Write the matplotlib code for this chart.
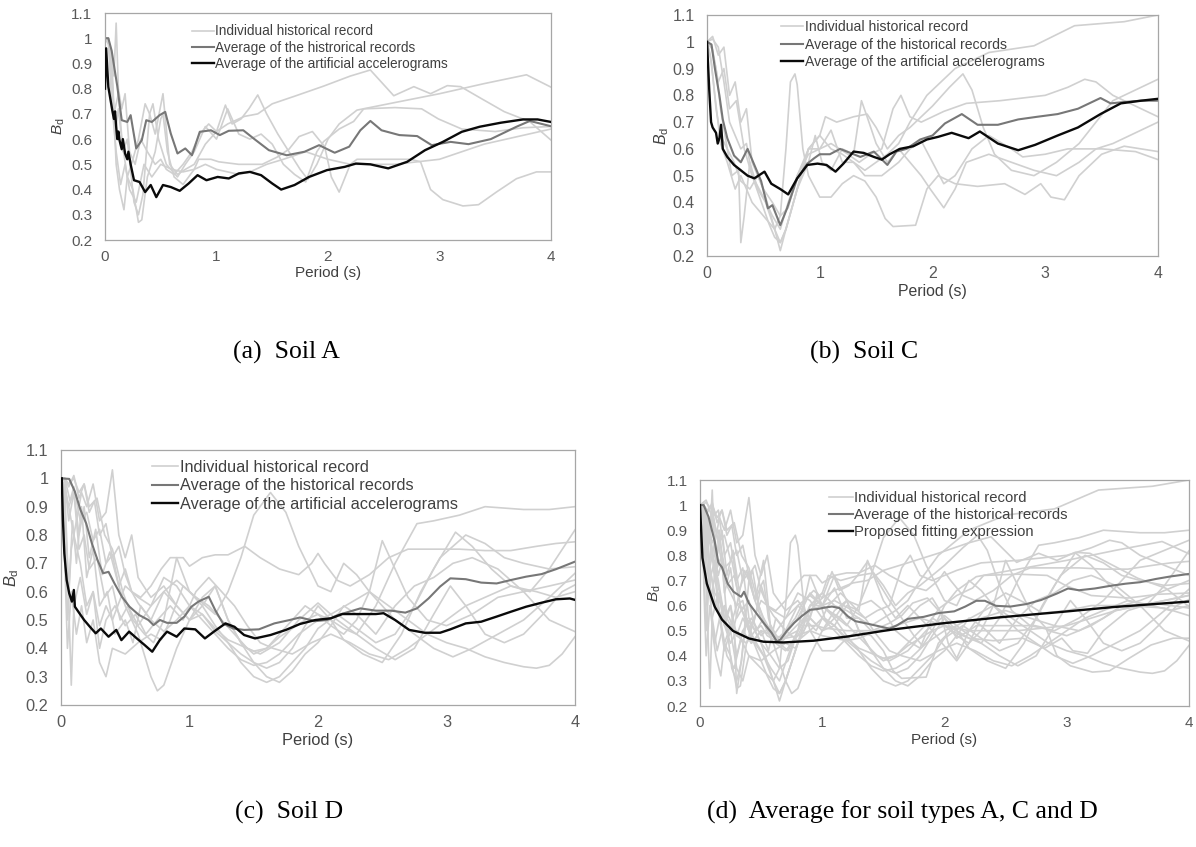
import matplotlib
matplotlib.use('Agg')
import matplotlib.pyplot as plt

plt.rcParams['font.family'] = ['Liberation Sans', 'DejaVu Sans']
plt.rcParams['mathtext.fontset'] = 'custom'
plt.rcParams['mathtext.rm'] = 'Liberation Sans'
plt.rcParams['mathtext.it'] = 'Liberation Sans:italic'

# ---------------- Soil A ----------------
a1_t = [0, 0.03, 0.06, 0.09, 0.12, 0.15, 0.2, 0.25, 0.3, 0.36, 0.4, 0.45, 0.52, 0.58, 0.65, 0.72, 0.8, 0.9, 1.0, 1.1, 1.25, 1.37, 1.5, 1.7, 1.96, 2.2, 2.38, 2.59, 2.77, 2.92, 3.07, 3.19, 3.37, 3.58, 3.81, 4.0]
a1_bd = [1.0, 1.0, 0.92, 0.62, 0.72, 0.6, 0.45, 0.52, 0.6, 0.74, 0.7, 0.62, 0.78, 0.5, 0.46, 0.48, 0.5, 0.58, 0.63, 0.66, 0.69, 0.7, 0.74, 0.77, 0.81, 0.85, 0.874, 0.772, 0.808, 0.78, 0.812, 0.808, 0.762, 0.709, 0.669, 0.596]
a2_t = [0, 0.02, 0.05, 0.08, 0.1, 0.12, 0.15, 0.18, 0.22, 0.27, 0.32, 0.38, 0.45, 0.5, 0.55, 0.62, 0.7, 0.78, 0.85, 0.93, 1.0, 1.08, 1.14, 1.22, 1.29, 1.37, 1.45, 1.55, 1.65, 1.75, 1.82, 1.9, 2.0, 2.1, 2.26, 2.6, 3.0, 3.4, 3.78, 4.0]
a2_bd = [1.0, 1.0, 0.95, 0.85, 1.06, 0.8, 0.72, 0.78, 0.55, 0.5, 0.6, 0.55, 0.5, 0.52, 0.48, 0.46, 0.5, 0.55, 0.62, 0.66, 0.63, 0.735, 0.66, 0.68, 0.72, 0.775, 0.7, 0.62, 0.55, 0.48, 0.44, 0.5, 0.6, 0.66, 0.715, 0.745, 0.78, 0.82, 0.855, 0.806]
a3_t = [0, 0.03, 0.07, 0.1, 0.13, 0.17, 0.2, 0.25, 0.3, 0.33, 0.38, 0.45, 0.5, 0.52, 0.56, 0.62, 0.7, 0.8, 0.84, 0.95, 1.02, 1.2, 1.41, 1.55, 1.65, 1.74, 1.86, 1.97, 2.03, 2.1, 2.2, 2.26, 2.5, 2.74, 2.83, 2.92, 3.03, 3.21, 3.35, 3.51, 3.69, 3.87, 4.0]
a3_bd = [1.0, 1.0, 0.8, 0.5, 0.4, 0.32, 0.45, 0.4, 0.27, 0.28, 0.45, 0.55, 0.68, 0.7, 0.55, 0.45, 0.42, 0.48, 0.52, 0.52, 0.51, 0.5, 0.5, 0.53, 0.56, 0.61, 0.63, 0.57, 0.45, 0.39, 0.5, 0.52, 0.52, 0.52, 0.51, 0.4, 0.36, 0.335, 0.34, 0.39, 0.443, 0.47, 0.47]
a4_t = [0, 0.04, 0.08, 0.12, 0.16, 0.2, 0.26, 0.3, 0.34, 0.4, 0.43, 0.48, 0.55, 0.65, 0.72, 0.8, 0.9, 1.0, 1.1, 1.2, 1.3, 1.4, 1.5, 1.6, 1.7, 1.8, 1.9, 1.96, 2.1, 2.23, 2.32, 2.6, 2.84, 2.99, 3.2, 3.5, 3.75, 4.0]
a4_bd = [1.0, 0.97, 0.7, 0.78, 0.55, 0.6, 0.35, 0.3, 0.38, 0.7, 0.74, 0.6, 0.5, 0.45, 0.5, 0.55, 0.65, 0.6, 0.72, 0.62, 0.6, 0.62, 0.58, 0.5, 0.46, 0.43, 0.55, 0.59, 0.64, 0.67, 0.72, 0.725, 0.72, 0.68, 0.64, 0.63, 0.645, 0.65]
a5_t = [0, 0.03, 0.06, 0.1, 0.14, 0.18, 0.22, 0.28, 0.35, 0.42, 0.5, 0.6, 0.7, 0.8, 0.9, 1.0, 1.1, 1.2, 1.3, 1.45, 1.6, 1.8, 2.0, 2.2, 2.4, 2.6, 2.8, 3.0, 3.2, 3.4, 3.6, 3.8, 4.0]
a5_bd = [1.0, 0.98, 0.75, 0.55, 0.42, 0.5, 0.4, 0.35, 0.5, 0.45, 0.5, 0.48, 0.47, 0.48, 0.5, 0.48, 0.47, 0.46, 0.47, 0.5, 0.52, 0.55, 0.52, 0.5, 0.5, 0.5, 0.51, 0.52, 0.55, 0.58, 0.6, 0.62, 0.64]

a_avg_t = [0, 0.03, 0.06, 0.11, 0.15, 0.2, 0.23, 0.28, 0.33, 0.37, 0.42, 0.49, 0.54, 0.59, 0.65, 0.72, 0.78, 0.85, 0.95, 1.03, 1.11, 1.24, 1.34, 1.47, 1.63, 1.79, 1.92, 2.06, 2.19, 2.29, 2.38, 2.48, 2.64, 2.8, 2.93, 3.1, 3.26, 3.46, 3.69, 3.81, 4.0]
a_avg_bd = [1.0, 1.0, 0.95, 0.81, 0.675, 0.668, 0.695, 0.563, 0.596, 0.675, 0.668, 0.695, 0.708, 0.622, 0.543, 0.563, 0.536, 0.629, 0.635, 0.616, 0.633, 0.635, 0.6, 0.556, 0.536, 0.55, 0.576, 0.546, 0.57, 0.635, 0.672, 0.635, 0.616, 0.612, 0.576, 0.589, 0.58, 0.6, 0.649, 0.672, 0.651]
a_art_t = [0.0, 0.01, 0.03, 0.065, 0.08, 0.09, 0.1, 0.11, 0.12, 0.13, 0.15, 0.16, 0.18, 0.2, 0.21, 0.23, 0.26, 0.31, 0.36, 0.41, 0.46, 0.52, 0.59, 0.67, 0.75, 0.83, 0.91, 1.01, 1.11, 1.2, 1.3, 1.4, 1.5, 1.58, 1.7, 1.83, 1.99, 2.15, 2.25, 2.38, 2.54, 2.71, 2.87, 3.03, 3.2, 3.36, 3.55, 3.75, 3.88, 4.0]
a_art_bd = [0.8, 0.96, 0.807, 0.715, 0.68, 0.71, 0.65, 0.6, 0.63, 0.596, 0.56, 0.6, 0.543, 0.52, 0.55, 0.50, 0.437, 0.43, 0.39, 0.418, 0.37, 0.418, 0.41, 0.395, 0.424, 0.457, 0.437, 0.45, 0.444, 0.464, 0.47, 0.457, 0.424, 0.40, 0.418, 0.45, 0.477, 0.49, 0.503, 0.50, 0.484, 0.51, 0.556, 0.589, 0.629, 0.649, 0.665, 0.678, 0.678, 0.668]

# ---------------- Soil C ----------------
b1_t = [0, 0.05, 0.1, 0.15, 0.2, 0.25, 0.3, 0.35, 0.4, 0.5, 0.6, 0.65, 0.7, 0.8, 0.9, 1.0, 1.1, 1.2, 1.3, 1.4, 1.5, 1.6, 1.7, 1.8, 1.95, 2.2, 2.5, 2.9, 3.26, 3.7, 4.0]
b1_bd = [1.0, 1.02, 0.95, 0.98, 0.8, 0.85, 0.7, 0.75, 0.55, 0.45, 0.3, 0.25, 0.3, 0.45, 0.6, 0.65, 0.6, 0.58, 0.55, 0.52, 0.55, 0.58, 0.62, 0.7, 0.8, 0.9, 0.96, 0.985, 1.06, 1.075, 1.1]
b2_t = [0, 0.03, 0.07, 0.12, 0.18, 0.25, 0.3, 0.4, 0.5, 0.6, 0.65, 0.7, 0.74, 0.78, 0.8, 0.85, 0.9, 1.0, 1.1, 1.2, 1.3, 1.4, 1.5, 1.58, 1.65, 1.85, 1.95, 2.05, 2.2, 2.4, 2.64, 2.82, 2.96, 3.05, 3.17, 3.3, 3.5, 3.7, 3.85, 4.0]
b2_bd = [1.0, 0.95, 0.8, 0.62, 0.55, 0.45, 0.5, 0.4, 0.35, 0.3, 0.35, 0.6, 0.85, 0.88, 0.84, 0.6, 0.5, 0.42, 0.42, 0.47, 0.5, 0.48, 0.42, 0.34, 0.31, 0.315, 0.45, 0.5, 0.47, 0.46, 0.47, 0.43, 0.47, 0.42, 0.41, 0.5, 0.58, 0.61, 0.6, 0.59]
b3_t = [0, 0.04, 0.08, 0.12, 0.16, 0.22, 0.28, 0.3, 0.33, 0.38, 0.45, 0.52, 0.6, 0.65, 0.7, 0.8, 0.9, 0.96, 1.02, 1.1, 1.2, 1.3, 1.37, 1.42, 1.5, 1.6, 1.7, 1.8, 1.9, 1.98, 2.1, 2.2, 2.3, 2.5, 2.7, 2.9, 3.1, 3.3, 3.45, 3.6, 3.8, 4.0]
b3_bd = [1.0, 0.98, 0.9, 0.75, 0.65, 0.5, 0.52, 0.25, 0.35, 0.55, 0.45, 0.4, 0.3, 0.22, 0.3, 0.45, 0.55, 0.65, 0.55, 0.52, 0.6, 0.58, 0.78, 0.72, 0.62, 0.55, 0.6, 0.55, 0.5, 0.45, 0.38, 0.45, 0.55, 0.58, 0.55, 0.52, 0.5, 0.55, 0.6, 0.62, 0.66, 0.70]
b4_t = [0, 0.05, 0.1, 0.15, 0.2, 0.26, 0.33, 0.4, 0.5, 0.58, 0.65, 0.72, 0.8, 0.9, 1.0, 1.05, 1.15, 1.3, 1.42, 1.5, 1.6, 1.7, 1.8, 2.0, 2.15, 2.27, 2.35, 2.45, 2.55, 2.7, 2.9, 3.1, 3.3, 3.45, 3.6, 3.8, 4.0]
b4_bd = [1.0, 0.97, 0.85, 0.9, 0.75, 0.78, 0.6, 0.5, 0.42, 0.35, 0.3, 0.4, 0.5, 0.6, 0.65, 0.72, 0.7, 0.72, 0.73, 0.68, 0.6, 0.65, 0.68, 0.76, 0.83, 0.88, 0.82, 0.68, 0.58, 0.52, 0.5, 0.55, 0.62, 0.7, 0.78, 0.82, 0.86]
b5_t = [0, 0.04, 0.08, 0.12, 0.18, 0.24, 0.3, 0.38, 0.45, 0.5, 0.58, 0.65, 0.72, 0.8, 0.9, 1.0, 1.1, 1.25, 1.35, 1.45, 1.55, 1.65, 1.72, 1.8, 1.9, 2.0, 2.1, 2.3, 2.6, 2.8, 3.0, 3.2, 3.35, 3.45, 3.6, 3.8, 4.0]
b5_bd = [1.0, 0.92, 0.75, 0.65, 0.6, 0.55, 0.48, 0.45, 0.5, 0.45, 0.4, 0.35, 0.38, 0.5, 0.58, 0.6, 0.62, 0.58, 0.55, 0.58, 0.6, 0.75, 0.8, 0.72, 0.7, 0.72, 0.74, 0.77, 0.78, 0.79, 0.8, 0.83, 0.86, 0.85, 0.8, 0.76, 0.72]
b6_t = [0, 0.05, 0.1, 0.15, 0.2, 0.25, 0.3, 0.35, 0.4, 0.5, 0.55, 0.6, 0.65, 0.7, 0.8, 0.9, 1.0, 1.1, 1.2, 1.3, 1.4, 1.55, 1.7, 1.8, 1.9, 2.0, 2.1, 2.2, 2.35, 2.5, 2.7, 2.8, 3.0, 3.2, 3.5, 3.8, 4.0]
b6_bd = [1.0, 1.01, 0.98, 0.85, 0.7, 0.65, 0.6, 0.62, 0.5, 0.38, 0.32, 0.27, 0.25, 0.3, 0.45, 0.6, 0.6, 0.67, 0.55, 0.55, 0.5, 0.5, 0.55, 0.6, 0.63, 0.55, 0.47, 0.5, 0.6, 0.65, 0.6, 0.57, 0.58, 0.6, 0.6, 0.59, 0.56]

c_avg_t_b = [0, 0.04, 0.07, 0.11, 0.14, 0.18, 0.24, 0.3, 0.36, 0.42, 0.48, 0.54, 0.58, 0.65, 0.71, 0.8, 0.89, 0.95, 1.0, 1.09, 1.18, 1.27, 1.36, 1.48, 1.6, 1.68, 1.77, 1.89, 2.0, 2.11, 2.26, 2.4, 2.58, 2.76, 2.93, 3.11, 3.29, 3.49, 3.58, 3.7, 3.85, 4.0]
c_avg_bd_b = [1.0, 0.99, 0.90, 0.80, 0.71, 0.64, 0.575, 0.55, 0.60, 0.54, 0.48, 0.378, 0.39, 0.315, 0.378, 0.49, 0.545, 0.565, 0.58, 0.58, 0.60, 0.585, 0.57, 0.59, 0.54, 0.59, 0.60, 0.635, 0.65, 0.695, 0.73, 0.69, 0.69, 0.71, 0.72, 0.73, 0.75, 0.79, 0.77, 0.775, 0.78, 0.78]
c_art_t = [0, 0.02, 0.036, 0.05, 0.08, 0.095, 0.11, 0.125, 0.14, 0.18, 0.24, 0.3, 0.36, 0.42, 0.51, 0.57, 0.65, 0.72, 0.8, 0.89, 0.98, 1.06, 1.14, 1.21, 1.3, 1.39, 1.48, 1.55, 1.62, 1.71, 1.83, 1.95, 2.05, 2.17, 2.32, 2.42, 2.58, 2.76, 2.91, 3.11, 3.29, 3.49, 3.67, 3.85, 4.0]
c_art_bd = [1.0, 0.82, 0.70, 0.68, 0.66, 0.62, 0.64, 0.69, 0.60, 0.57, 0.54, 0.52, 0.50, 0.49, 0.515, 0.47, 0.45, 0.43, 0.49, 0.54, 0.545, 0.54, 0.515, 0.545, 0.59, 0.585, 0.57, 0.56, 0.58, 0.60, 0.61, 0.635, 0.645, 0.66, 0.64, 0.665, 0.62, 0.595, 0.615, 0.65, 0.68, 0.73, 0.77, 0.78, 0.787]

# ---------------- Soil D ----------------
d1_t = [0, 0.02, 0.05, 0.08, 0.1, 0.15, 0.2, 0.25, 0.3, 0.35, 0.4, 0.5, 0.6, 0.7, 0.8, 0.9, 1.0, 1.1, 1.2, 1.3, 1.4, 1.5, 1.63, 1.75, 1.85, 2.0, 2.1, 2.2, 2.3, 2.4, 2.5, 2.6, 2.75, 2.9, 3.05, 3.2, 3.4, 3.6, 3.8, 4.0]
d1_bd = [1.0, 0.98, 0.7, 0.27, 0.55, 0.65, 0.52, 0.6, 0.48, 0.55, 0.5, 0.62, 0.58, 0.55, 0.6, 0.64, 0.6, 0.56, 0.52, 0.6, 0.72, 0.87, 0.95, 0.88, 0.76, 0.62, 0.6, 0.7, 0.66, 0.6, 0.55, 0.5, 0.45, 0.4, 0.37, 0.4, 0.45, 0.5, 0.58, 0.665]
d2_t = [0, 0.03, 0.06, 0.1, 0.14, 0.18, 0.22, 0.26, 0.3, 0.35, 0.4, 0.45, 0.5, 0.55, 0.6, 0.7, 0.8, 0.9, 1.0, 1.1, 1.2, 1.3, 1.4, 1.5, 1.6, 1.7, 1.8, 1.9, 2.0, 2.1, 2.2, 2.3, 2.45, 2.6, 2.77, 2.9, 3.1, 3.3, 3.6, 3.8, 4.0]
d2_bd = [1.0, 1.0, 0.97, 1.01, 0.93, 0.98, 0.88, 0.92, 0.8, 0.84, 0.72, 0.76, 0.66, 0.6, 0.56, 0.5, 0.46, 0.5, 0.55, 0.52, 0.47, 0.43, 0.41, 0.39, 0.4, 0.44, 0.47, 0.5, 0.52, 0.5, 0.47, 0.45, 0.55, 0.7, 0.84, 0.85, 0.87, 0.9, 0.89, 0.89, 0.9]
d3_t = [0, 0.03, 0.06, 0.1, 0.14, 0.18, 0.22, 0.27, 0.32, 0.38, 0.45, 0.5, 0.55, 0.62, 0.7, 0.78, 0.85, 0.95, 1.0, 1.1, 1.2, 1.3, 1.43, 1.55, 1.7, 1.85, 1.95, 2.0, 2.05, 2.15, 2.25, 2.4, 2.55, 2.7, 2.9, 3.1, 3.3, 3.5, 3.7, 3.85, 4.0]
d3_bd = [1.0, 0.99, 0.85, 0.95, 0.8, 0.9, 0.72, 0.82, 0.66, 0.74, 0.62, 0.68, 0.6, 0.58, 0.62, 0.68, 0.72, 0.72, 0.69, 0.72, 0.73, 0.73, 0.76, 0.72, 0.68, 0.66, 0.7, 0.735, 0.7, 0.64, 0.62, 0.66, 0.72, 0.75, 0.75, 0.75, 0.745, 0.745, 0.76, 0.77, 0.776]
d4_t = [0, 0.03, 0.06, 0.09, 0.12, 0.16, 0.2, 0.25, 0.3, 0.36, 0.42, 0.5, 0.56, 0.62, 0.7, 0.8, 0.9, 1.0, 1.1, 1.2, 1.3, 1.4, 1.5, 1.6, 1.7, 1.8, 1.9, 2.0, 2.1, 2.2, 2.3, 2.4, 2.5, 2.6, 2.7, 2.85, 3.0, 3.2, 3.4, 3.6, 3.8, 4.0]
d4_bd = [1.0, 0.95, 0.6, 0.85, 0.7, 0.9, 0.65, 0.75, 0.55, 0.6, 0.45, 0.5, 0.42, 0.55, 0.5, 0.6, 0.55, 0.5, 0.58, 0.62, 0.5, 0.42, 0.38, 0.4, 0.45, 0.5, 0.55, 0.52, 0.48, 0.45, 0.5, 0.6, 0.78, 0.68, 0.58, 0.5, 0.48, 0.52, 0.58, 0.6, 0.62, 0.641]
d5_t = [0, 0.03, 0.07, 0.1, 0.15, 0.2, 0.25, 0.3, 0.35, 0.4, 0.45, 0.5, 0.6, 0.7, 0.75, 0.8, 0.9, 1.0, 1.1, 1.2, 1.3, 1.4, 1.5, 1.6, 1.7, 1.8, 1.9, 2.0, 2.15, 2.3, 2.45, 2.6, 2.75, 2.9, 3.07, 3.2, 3.35, 3.5, 3.65, 3.8, 4.0]
d5_bd = [1.0, 1.0, 0.92, 0.97, 0.85, 0.88, 0.78, 0.82, 0.7, 0.73, 0.62, 0.55, 0.45, 0.3, 0.25, 0.27, 0.4, 0.5, 0.55, 0.48, 0.42, 0.35, 0.3, 0.28, 0.3, 0.35, 0.4, 0.47, 0.52, 0.47, 0.42, 0.45, 0.55, 0.68, 0.81, 0.76, 0.68, 0.62, 0.6, 0.68, 0.818]
d6_t = [0, 0.02, 0.05, 0.08, 0.12, 0.16, 0.2, 0.25, 0.3, 0.35, 0.4, 0.45, 0.5, 0.55, 0.6, 0.7, 0.8, 0.9, 1.0, 1.1, 1.2, 1.3, 1.4, 1.5, 1.6, 1.7, 1.8, 1.9, 2.0, 2.1, 2.2, 2.35, 2.5, 2.65, 2.8, 2.95, 3.15, 3.3, 3.45, 3.6, 3.8, 4.0]
d6_bd = [1.0, 0.9, 0.5, 0.75, 0.85, 0.95, 0.9, 0.98, 0.85, 0.88, 1.03, 0.8, 0.72, 0.8, 0.65, 0.58, 0.62, 0.55, 0.5, 0.52, 0.46, 0.42, 0.38, 0.35, 0.33, 0.35, 0.4, 0.48, 0.55, 0.5, 0.43, 0.38, 0.35, 0.45, 0.6, 0.72, 0.8, 0.77, 0.72, 0.7, 0.68, 0.688]
d7_t = [0, 0.03, 0.06, 0.1, 0.14, 0.18, 0.22, 0.28, 0.34, 0.4, 0.46, 0.52, 0.6, 0.7, 0.8, 0.9, 1.0, 1.1, 1.2, 1.3, 1.4, 1.5, 1.6, 1.7, 1.85, 2.0, 2.1, 2.25, 2.4, 2.55, 2.7, 2.85, 3.0, 3.15, 3.3, 3.45, 3.6, 3.7, 3.8, 3.9, 4.0]
d7_bd = [1.0, 0.97, 0.9, 0.95, 0.75, 0.8, 0.68, 0.72, 0.58, 0.62, 0.5, 0.55, 0.48, 0.55, 0.65, 0.62, 0.55, 0.5, 0.45, 0.4, 0.36, 0.34, 0.35, 0.38, 0.45, 0.5, 0.52, 0.56, 0.6, 0.55, 0.5, 0.45, 0.42, 0.4, 0.37, 0.35, 0.335, 0.33, 0.34, 0.38, 0.441]
d8_t = [0, 0.02, 0.05, 0.08, 0.12, 0.16, 0.2, 0.25, 0.3, 0.35, 0.4, 0.5, 0.6, 0.7, 0.78, 0.85, 0.95, 1.05, 1.15, 1.25, 1.35, 1.45, 1.55, 1.7, 1.85, 2.0, 2.15, 2.3, 2.45, 2.6, 2.75, 2.9, 3.03, 3.15, 3.3, 3.45, 3.6, 3.75, 3.9, 4.0]
d8_bd = [1.0, 0.85, 0.4, 0.6, 0.45, 0.55, 0.42, 0.5, 0.35, 0.3, 0.4, 0.38, 0.42, 0.45, 0.43, 0.5, 0.62, 0.58, 0.55, 0.5, 0.45, 0.4, 0.38, 0.42, 0.5, 0.56, 0.5, 0.45, 0.4, 0.36, 0.4, 0.52, 0.62, 0.55, 0.45, 0.42, 0.45, 0.52, 0.6, 0.624]
d9_t = [0, 0.03, 0.06, 0.1, 0.14, 0.18, 0.22, 0.28, 0.34, 0.4, 0.48, 0.56, 0.65, 0.72, 0.8, 0.9, 1.0, 1.1, 1.2, 1.3, 1.4, 1.5, 1.6, 1.7, 1.8, 1.9, 2.0, 2.1, 2.2, 2.3, 2.45, 2.6, 2.75, 2.9, 3.05, 3.2, 3.4, 3.6, 3.8, 4.0]
d9_bd = [1.0, 1.0, 0.98, 1.0, 0.95, 0.98, 0.9, 0.93, 0.8, 0.75, 0.6, 0.5, 0.45, 0.42, 0.5, 0.72, 0.6, 0.55, 0.62, 0.5, 0.42, 0.35, 0.3, 0.28, 0.32, 0.38, 0.42, 0.48, 0.55, 0.52, 0.45, 0.55, 0.62, 0.65, 0.7, 0.72, 0.68, 0.6, 0.5, 0.459]
d10_t = [0, 0.03, 0.06, 0.1, 0.15, 0.2, 0.25, 0.3, 0.35, 0.42, 0.5, 0.58, 0.66, 0.75, 0.85, 0.95, 1.05, 1.15, 1.25, 1.35, 1.45, 1.55, 1.65, 1.8, 1.95, 2.1, 2.25, 2.4, 2.55, 2.7, 2.85, 3.0, 3.15, 3.3, 3.5, 3.7, 3.85, 4.0]
d10_bd = [1.0, 0.96, 0.9, 0.8, 0.7, 0.55, 0.6, 0.4, 0.5, 0.55, 0.48, 0.52, 0.45, 0.5, 0.55, 0.5, 0.6, 0.65, 0.6, 0.55, 0.48, 0.42, 0.4, 0.38, 0.42, 0.45, 0.42, 0.38, 0.36, 0.4, 0.45, 0.5, 0.55, 0.58, 0.62, 0.6, 0.58, 0.6]

d_avg_t = [0, 0.064, 0.108, 0.152, 0.196, 0.24, 0.284, 0.328, 0.37, 0.415, 0.474, 0.533, 0.606, 0.68, 0.72, 0.77, 0.825, 0.9, 0.96, 1.015, 1.07, 1.15, 1.2, 1.26, 1.34, 1.425, 1.54, 1.66, 1.78, 1.86, 1.98, 2.07, 2.16, 2.24, 2.33, 2.45, 2.57, 2.68, 2.77, 2.86, 2.95, 3.03, 3.15, 3.27, 3.39, 3.5, 3.62, 3.74, 3.85, 4.0]
d_avg_bd = [1.0, 0.998, 0.953, 0.888, 0.841, 0.771, 0.712, 0.665, 0.67, 0.63, 0.582, 0.547, 0.518, 0.50, 0.482, 0.50, 0.49, 0.49, 0.512, 0.547, 0.565, 0.582, 0.535, 0.488, 0.47, 0.465, 0.467, 0.488, 0.50, 0.509, 0.496, 0.50, 0.518, 0.529, 0.541, 0.533, 0.533, 0.526, 0.541, 0.576, 0.618, 0.647, 0.644, 0.632, 0.629, 0.641, 0.653, 0.662, 0.679, 0.706]
d_art_t = [0.006, 0.015, 0.026, 0.044, 0.064, 0.085, 0.1, 0.108, 0.143, 0.18, 0.225, 0.27, 0.31, 0.37, 0.43, 0.47, 0.53, 0.59, 0.65, 0.71, 0.77, 0.825, 0.9, 0.96, 1.045, 1.12, 1.19, 1.28, 1.35, 1.425, 1.51, 1.63, 1.75, 1.86, 1.98, 2.1, 2.19, 2.33, 2.45, 2.51, 2.6, 2.71, 2.83, 2.95, 3.03, 3.15, 3.27, 3.39, 3.5, 3.62, 3.74, 3.85, 3.96, 4.0]
d_art_bd = [1.0, 0.853, 0.735, 0.641, 0.594, 0.565, 0.606, 0.547, 0.524, 0.50, 0.476, 0.453, 0.47, 0.441, 0.465, 0.429, 0.459, 0.435, 0.412, 0.388, 0.43, 0.459, 0.441, 0.47, 0.467, 0.435, 0.459, 0.488, 0.476, 0.447, 0.435, 0.447, 0.465, 0.486, 0.50, 0.506, 0.521, 0.521, 0.521, 0.524, 0.50, 0.465, 0.455, 0.455, 0.467, 0.488, 0.494, 0.512, 0.529, 0.547, 0.561, 0.573, 0.576, 0.571]

# ---------------- all soils ----------------
all_avg_t = [0, 0.03, 0.07, 0.12, 0.15, 0.18, 0.227, 0.274, 0.336, 0.36, 0.4, 0.46, 0.52, 0.585, 0.63, 0.66, 0.71, 0.77, 0.83, 0.9, 0.96, 1.02, 1.08, 1.14, 1.21, 1.27, 1.36, 1.46, 1.55, 1.61, 1.7, 1.83, 1.95, 2.08, 2.17, 2.26, 2.33, 2.42, 2.54, 2.67, 2.79, 2.92, 3.01, 3.1, 3.23, 3.35, 3.48, 3.6, 3.73, 3.85, 4.0]
all_avg_bd = [1.0, 1.0, 0.953, 0.856, 0.771, 0.752, 0.687, 0.655, 0.635, 0.655, 0.609, 0.57, 0.531, 0.492, 0.456, 0.466, 0.499, 0.531, 0.557, 0.583, 0.586, 0.592, 0.596, 0.59, 0.557, 0.538, 0.529, 0.518, 0.508, 0.521, 0.547, 0.555, 0.57, 0.577, 0.596, 0.619, 0.619, 0.599, 0.596, 0.606, 0.622, 0.648, 0.668, 0.661, 0.668, 0.678, 0.687, 0.693, 0.706, 0.716, 0.726]
fit_t = [0, 0.02, 0.056, 0.12, 0.18, 0.27, 0.4, 0.52, 0.68, 0.93, 1.21, 1.55, 1.98, 2.45, 2.92, 3.38, 4.0]
fit_bd = [1.0, 0.79, 0.687, 0.596, 0.544, 0.499, 0.469, 0.456, 0.453, 0.46, 0.477, 0.503, 0.529, 0.553, 0.573, 0.594, 0.616]

soil_a = [(a1_t, a1_bd), (a2_t, a2_bd), (a3_t, a3_bd), (a4_t, a4_bd), (a5_t, a5_bd)]
soil_c = [(b1_t, b1_bd), (b2_t, b2_bd), (b3_t, b3_bd), (b4_t, b4_bd), (b5_t, b5_bd), (b6_t, b6_bd)]
soil_d = [(d1_t, d1_bd), (d2_t, d2_bd), (d3_t, d3_bd), (d4_t, d4_bd), (d5_t, d5_bd),
          (d6_t, d6_bd), (d7_t, d7_bd), (d8_t, d8_bd), (d9_t, d9_bd), (d10_t, d10_bd)]

yticks = [0.2, 0.3, 0.4, 0.5, 0.6, 0.7, 0.8, 0.9, 1.0, 1.1]
ytick_labels = ['0.2', '0.3', '0.4', '0.5', '0.6', '0.7', '0.8', '0.9', '1', '1.1']
xticks = [0, 1, 2, 3, 4]

W, H = 1196, 847
LIGHT = '#d0d0d0'
MID = '#777777'
DARK = '#0a0a0a'
TXT = '#404040'

fig = plt.figure(figsize=(W / 100, H / 100), dpi=100)


def make_axes(l, t, r, b):
    return fig.add_axes([l / W, 1 - b / H, (r - l) / W, (b - t) / H])


def draw_panel(ax, records, avg, black, labels, fs, leg_x, leg_y, leg_fs, leg_sp, ylab_x):
    h = None
    for t, bd in records:
        h, = ax.plot(t, bd, color=LIGHT, lw=1.2, zorder=1)
    h_avg, = ax.plot(avg[0], avg[1], color=MID, lw=1.5, zorder=2)
    h_blk, = ax.plot(black[0], black[1], color=DARK, lw=1.7, zorder=3)
    ax.set_xlim(0, 4)
    ax.set_ylim(0.2, 1.1)
    ax.set_xticks(xticks)
    ax.set_yticks(yticks)
    ax.set_yticklabels(ytick_labels)
    ax.tick_params(length=0, labelsize=fs, colors='#595959', pad=9)
    ax.tick_params(axis='x', pad=7)
    for s in ax.spines.values():
        s.set_color('#a6a6a6')
        s.set_linewidth(0.9)
    ax.set_xlabel('Period (s)', fontsize=fs, color=TXT, labelpad=2)
    ax.set_ylabel(r'$B_\mathrm{d}$', fontsize=fs, color=TXT)
    ax.yaxis.set_label_coords(ylab_x, 0.5)
    leg = ax.legend([h, h_avg, h_blk], labels, loc='upper left',
                    bbox_to_anchor=(leg_x, leg_y), frameon=False,
                    fontsize=leg_fs, handlelength=1.6, handletextpad=0.1,
                    labelspacing=leg_sp, borderpad=0, borderaxespad=0)
    for txt in leg.get_texts():
        txt.set_color(TXT)


ax_a = make_axes(105, 13, 551, 240)
draw_panel(ax_a, soil_a, (a_avg_t, a_avg_bd), (a_art_t, a_art_bd),
           ['Individual historical record', 'Average of the histrorical records',
            'Average of the artificial accelerograms'],
           11, 0.195, 0.95, 9.8, 0.18, -0.085)

ax_b = make_axes(707, 15, 1158, 256)
draw_panel(ax_b, soil_c, (c_avg_t_b, c_avg_bd_b), (c_art_t, c_art_bd),
           ['Individual historical record', 'Average of the historical records',
            'Average of the artificial accelerograms'],
           11.4, 0.164, 0.978, 10.1, 0.25, -0.08)

ax_c = make_axes(61, 450, 575, 705)
draw_panel(ax_c, soil_d, (d_avg_t, d_avg_bd), (d_art_t, d_art_bd),
           ['Individual historical record', 'Average of the historical records',
            'Average of the artificial accelerograms'],
           11.8, 0.177, 0.962, 11.7, 0.22, -0.078)

ax_d = make_axes(700, 480, 1189, 706)
draw_panel(ax_d, soil_a + soil_c + soil_d, (all_avg_t, all_avg_bd), (fit_t, fit_bd),
           ['Individual historical record', 'Average of the historical records',
            'Proposed fitting expression'],
           11, 0.264, 0.952, 10.7, 0.2, -0.075)

cap_font = dict(family='Liberation Serif', fontsize=18.5, ha='center', va='center', color='black')
fig.text(286 / W, 1 - 352 / H, '(a)  Soil A', **cap_font)
fig.text(864 / W, 1 - 352 / H, '(b)  Soil C', **cap_font)
fig.text(289 / W, 1 - 812 / H, '(c)  Soil D', **cap_font)
fig.text(902 / W, 1 - 812 / H, '(d)  Average for soil types A, C and D', **cap_font)

fig.savefig('out.png', dpi=100)
